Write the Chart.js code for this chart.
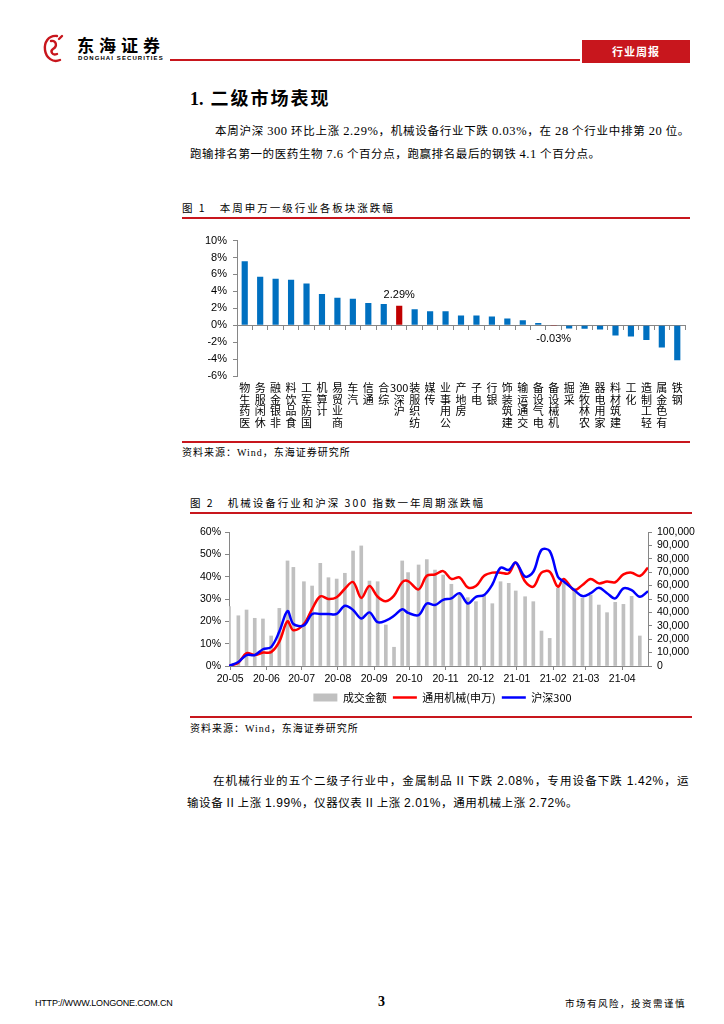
<!DOCTYPE html>
<html lang="zh-CN">
<head>
<meta charset="utf-8">
<title>二级市场表现</title>
<script src="https://cdn.jsdelivr.net/npm/chart.js@4.4.1/dist/chart.umd.min.js"></script>
<style>
  html, body { margin: 0; padding: 0; background: #fff; }
  #page { position: relative; width: 724px; height: 1024px; overflow: hidden; color: #000;
          font-family: "Liberation Serif", "Noto Sans CJK SC", serif; }
  .abs { position: absolute; white-space: nowrap; }
  .cjk { font-family: "Noto Sans CJK SC", sans-serif; }
  .rule { position: absolute; height: 2px; background: #c8161d; }
  .caption { font-family: "Noto Sans CJK SC", sans-serif; font-size: 10.5px; letter-spacing: 2px; line-height: 14px; }
  .source { font-family: "Liberation Serif", "Noto Sans CJK SC", serif; font-size: 10px; letter-spacing: 1px; line-height: 14px; }
  .para { font-family: "Noto Sans CJK SC", sans-serif; font-size: 11.5px; line-height: 16px; letter-spacing: 0.6px; }
  .para .n { font-family: "Liberation Serif", serif; font-size: 12.5px; }
  .para2 .n { font-family: "Liberation Sans", sans-serif; font-size: 12px; }
  .just { text-align: justify; text-align-last: justify; }
</style>
</head>
<body>
<div id="page">
  <!-- header -->
  <svg class="abs" style="left:42px;top:33px" width="24" height="32" viewBox="0 0 24 32">
    <path d="M15 3 C6 2 2 10 3 17 C4 25 11 30 18 27 M9 8 C14 7 16 13 11 16 C8 18 10 23 15 21 M17 6 L20 3" stroke="#c8161d" stroke-width="2.4" fill="none" stroke-linecap="round"/>
  </svg>
  <div class="abs cjk" style="left:77px;top:35px;font-size:17px;font-weight:bold;letter-spacing:5px;line-height:20px">东海证券</div>
  <div class="abs" style="left:78px;top:55px;font-family:'Liberation Sans',sans-serif;font-size:6px;font-weight:bold;letter-spacing:1.1px;line-height:7px">DONGHAI SECURITIES</div>
  <div class="rule" style="left:170px;top:59px;width:410px;height:1.5px"></div>
  <div class="abs cjk" style="left:582px;top:40px;width:108px;height:23px;background:#c8161d;color:#fff;font-size:11px;font-weight:bold;line-height:23px;text-align:center;letter-spacing:1px">行业周报</div>

  <div class="abs" style="left:190px;top:85px;font-size:18px;font-weight:bold;line-height:24px"><span style="font-family:'Liberation Serif',serif;margin-right:7px">1.</span><span class="cjk" style="letter-spacing:2px">二级市场表现</span></div>

  <div class="abs para just" style="left:215px;top:122px;width:475px">本周沪深 <span class="n">300</span> 环比上涨 <span class="n">2.29%</span>，机械设备行业下跌 <span class="n">0.03%</span>，在 <span class="n">28</span> 个行业中排第 <span class="n">20</span> 位。</div>
  <div class="abs para" style="left:190px;top:145px">跑输排名第一的医药生物 <span class="n">7.6</span> 个百分点，跑赢排名最后的钢铁 <span class="n">4.1</span> 个百分点。</div>

  <!-- figure 1 -->
  <div class="abs caption" style="left:182px;top:201px">图 1&nbsp;&nbsp;&nbsp;本周申万一级行业各板块涨跌幅</div>
  <div class="rule" style="left:182px;top:217px;width:508px"></div>
  <div class="abs" style="left:182px;top:228px;width:508px;height:212px"><canvas id="chart1" width="508" height="212"></canvas></div>
  <div class="rule" style="left:182px;top:441px;width:508px"></div>
  <div class="abs source" style="left:182px;top:446px">资料来源：Wind，东海证券研究所</div>

  <!-- figure 2 -->
  <div class="abs caption" style="left:190px;top:496px">图 2&nbsp;&nbsp;&nbsp;机械设备行业和沪深 300 指数一年周期涨跌幅</div>
  <div class="rule" style="left:190px;top:512px;width:502px"></div>
  <div class="abs" style="left:185px;top:518px;width:515px;height:195px"><canvas id="chart2" width="515" height="195"></canvas></div>
  <div class="rule" style="left:190px;top:716px;width:502px"></div>
  <div class="abs source" style="left:190px;top:722px">资料来源：Wind，东海证券研究所</div>

  <div class="abs para para2 just" style="left:213px;top:772px;width:476px">在机械行业的五个二级子行业中，金属制品 <span class="n">II</span> 下跌 <span class="n">2.08%</span>，专用设备下跌 <span class="n">1.42%</span>，运</div>
  <div class="abs para para2" style="left:187px;top:794px">输设备 <span class="n">II</span> 上涨 <span class="n">1.99%</span>，仪器仪表 <span class="n">II</span> 上涨 <span class="n">2.01%</span>，通用机械上涨 <span class="n">2.72%</span>。</div>

  <!-- footer -->
  <div class="abs" style="left:35px;top:997px;font-family:'Liberation Sans',sans-serif;font-size:9px;letter-spacing:-0.2px;line-height:12px">HTTP://WWW.LONGONE.COM.CN</div>
  <div class="abs" style="left:378px;top:994px;font-size:14px;font-weight:bold;line-height:16px">3</div>
  <div class="abs cjk" style="left:565px;top:997px;font-size:9.5px;letter-spacing:1.5px;line-height:12px">市场有风险，投资需谨慎</div>
</div>

<script>
// ---- 图1 数据 ----
const industries = ['医药生物', '休闲服务', '非银金融', '食品饮料', '国防军工', '计算机', '商业贸易', '汽车', '通信', '综合',
  '沪深300', '纺织服装', '传媒', '公用事业', '房地产', '电子', '银行', '建筑装饰', '交通运输', '电气设备',
  '机械设备', '采掘', '农林牧渔', '家用电器', '建筑材料', '化工', '轻工制造', '有色金属', '钢铁'];
const weeklyChange = [7.57, 5.73, 5.49, 5.37, 4.94, 3.69, 3.25, 3.14, 2.63, 2.51,
  2.29, 1.88, 1.65, 1.65, 1.14, 1.14, 1.02, 0.78, 0.59, 0.27,
  -0.03, -0.39, -0.41, -0.51, -1.22, -1.33, -1.76, -2.63, -4.13];
const highlighted = ['沪深300', '机械设备'];

// ---- 图2 数据 ----
const weekDates = ['2020-04-30', '2020-05-08', '2020-05-15', '2020-05-22', '2020-05-29', '2020-06-05', '2020-06-12', '2020-06-19',
  '2020-06-24', '2020-07-03', '2020-07-10', '2020-07-17', '2020-07-24', '2020-07-31', '2020-08-07', '2020-08-14',
  '2020-08-21', '2020-08-28', '2020-09-04', '2020-09-11', '2020-09-18', '2020-09-25', '2020-09-30', '2020-10-09',
  '2020-10-16', '2020-10-23', '2020-10-30', '2020-11-06', '2020-11-13', '2020-11-20', '2020-11-27', '2020-12-04',
  '2020-12-11', '2020-12-18', '2020-12-25', '2020-12-31', '2021-01-08', '2021-01-15', '2021-01-22', '2021-01-29',
  '2021-02-05', '2021-02-10', '2021-02-19', '2021-02-26', '2021-03-05', '2021-03-12', '2021-03-19', '2021-03-26',
  '2021-04-02', '2021-04-09', '2021-04-16', '2021-04-23'];
const turnover = [44300, 37500, 41800, 35600, 35100, 22400, 43000, 78400, 73600, 62900, 59700, 76600, 65900,
  64900, 69200, 85800, 89600, 63400, 62900, 30600, 14000, 78400, 69700, 75400, 79400, 71600,
  67900, 61000, 54200, 51000, 48000, 53000, 46500, 62900, 61700, 56000, 51700, 48000, 26100,
  20600, 58000, 61700, 58000, 50500, 53000, 45500, 39800, 47500, 46000, 52000, 22400, null];
const machinery = [0, 1.5, 5.8, 4.9, 6.0, 6.2, 10.9, 20.0, 16.0, 18.8, 25.5, 31.2, 30.0, 30.8, 34.6, 37.6, 30.5,
  35.8, 31.0, 29.0, 31.5, 37.5, 38.0, 34.3, 40.4, 41.0, 42.5, 39.0, 39.7, 35.2, 35.8, 40.4, 41.8,
  41.8, 41.5, 46.3, 37.8, 35.5, 41.8, 42.2, 35.5, 39.0, 34.0, 36.3, 39.0, 37.0, 37.8, 37.5, 41.0,
  41.8, 40.3, 44.0];
const hs300 = [0, 1.8, 4.9, 4.9, 7.5, 8.5, 15.4, 24.6, 18.8, 18.2, 23.3, 23.3, 23.3, 23.3, 27.0, 25.1, 21.3,
  24.0, 19.6, 20.3, 22.5, 25.4, 23.8, 22.8, 28.0, 27.3, 29.6, 30.3, 32.6, 28.0, 31.0, 31.8, 36.5,
  44.0, 43.0, 46.3, 40.0, 42.2, 52.0, 51.5, 40.0, 37.8, 34.0, 31.3, 32.6, 35.0, 32.6, 30.3, 34.8,
  34.0, 31.0, 33.5];
const monthLabels = ['20-05', '20-06', '20-07', '20-08', '20-09', '20-10', '20-11', '20-12', '21-01', '21-02', '21-03', '21-04'];

const axisGray = '#868686';

// 竖排标签：字从下往上读，数字连在一起
function stackLabel(name) {
  const parts = name.match(/\d+|./g);
  return parts.reverse();
}

const barLabels = {
  id: 'barLabels',
  afterDatasetsDraw(chart) {
    const ctx = chart.ctx;
    const meta = chart.getDatasetMeta(0);
    ctx.save();
    ctx.font = '11px "Liberation Sans"';
    ctx.fillStyle = '#000';
    ctx.textAlign = 'center';
    highlighted.forEach(name => {
      const i = industries.indexOf(name);
      const v = weeklyChange[i];
      const bar = meta.data[i];
      const txt = v.toFixed(2) + '%';
      if (v >= 0) {
        ctx.textBaseline = 'bottom';
        ctx.fillText(txt, bar.x, bar.y - 5);
      } else {
        ctx.textBaseline = 'top';
        ctx.fillText(txt, bar.x, bar.base + 8);
      }
    });
    ctx.restore();
  }
};

new Chart(document.getElementById('chart1').getContext('2d'), {
  type: 'bar',
  data: {
    labels: industries,
    datasets: [{
      data: weeklyChange,
      backgroundColor: industries.map(n => highlighted.includes(n) ? '#c00000' : '#0070c0'),
      barPercentage: 0.4,
      categoryPercentage: 1.0
    }]
  },
  options: {
    responsive: false,
    animation: false,
    events: [],
    layout: { padding: { top: 12, right: 5, left: 0, bottom: 0 } },
    plugins: { legend: { display: false }, tooltip: { enabled: false } },
    scales: {
      x: {
        grid: { display: false, drawTicks: false },
        border: { display: false },
        ticks: {
          autoSkip: false, maxRotation: 0, minRotation: 0, padding: 6, color: '#000',
          font: { family: '"Noto Sans CJK SC"', size: 11, lineHeight: 1.05 },
          callback: (v, i) => stackLabel(industries[i])
        },
        afterFit: s => { s.height = 64; }
      },
      x0: {
        type: 'category',
        position: { y: 0 },
        grid: { offset: true, drawOnChartArea: false, tickLength: 4, color: axisGray },
        border: { color: axisGray },
        ticks: { display: false }
      },
      y: {
        min: -6, max: 10,
        ticks: { stepSize: 2, padding: 6, color: '#000', font: { family: '"Liberation Sans"', size: 11 },
          callback: v => v + '%' },
        grid: { drawOnChartArea: false, tickLength: 4, color: axisGray },
        border: { color: axisGray },
        afterFit: s => { s.width = 55; }
      }
    }
  },
  plugins: [barLabels]
});

// ---- 图2 ----
const dayMs = 86400000;
const startDay = Date.parse(weekDates[0]);
const dayOf = d => (Date.parse(d) - startDay) / dayMs;
const xMax = dayOf(weekDates[weekDates.length - 1]);
const pts = vals => weekDates.map((d, i) => ({ x: dayOf(d), y: vals[i] }));
const tickFont = { family: '"Liberation Sans"', size: 10.5 };

new Chart(document.getElementById('chart2').getContext('2d'), {
  type: 'bar',
  data: {
    datasets: [
      {
        label: '成交金额', data: pts(turnover), yAxisID: 'y1', order: 3,
        backgroundColor: '#c0c0c0', borderWidth: 0, barThickness: 3, pointStyle: 'rect'
      },
      {
        type: 'line', label: '通用机械(申万)', data: pts(machinery), yAxisID: 'y', order: 2,
        borderColor: '#ff0000', backgroundColor: '#ff0000', borderWidth: 2.5, pointRadius: 0,
        tension: 0.35, pointStyle: 'line'
      },
      {
        type: 'line', label: '沪深300', data: pts(hs300), yAxisID: 'y', order: 1,
        borderColor: '#0000ff', backgroundColor: '#0000ff', borderWidth: 2.5, pointRadius: 0,
        tension: 0.35, pointStyle: 'line'
      }
    ]
  },
  options: {
    responsive: false,
    animation: false,
    events: [],
    layout: { padding: { top: 14, right: 0, left: 0, bottom: 0 } },
    plugins: {
      tooltip: { enabled: false },
      legend: {
        position: 'bottom',
        labels: {
          usePointStyle: true, pointStyleWidth: 24, boxHeight: 8, padding: 6, color: '#000',
          font: { family: '"Noto Sans CJK SC"', size: 11 },
          sort: (a, b) => a.datasetIndex - b.datasetIndex
        }
      }
    },
    scales: {
      x: {
        type: 'linear', min: 0, max: xMax, offset: false,
        afterBuildTicks: s => { s.ticks = monthLabels.map(m => ({ value: dayOf('20' + m + '-01') })); },
        ticks: { autoSkip: false, maxRotation: 0, padding: 3, color: '#000', font: tickFont,
          callback: (v, i) => monthLabels[i] },
        grid: { offset: false, drawOnChartArea: false, tickLength: 4, color: axisGray },
        border: { color: axisGray },
        afterFit: s => { s.height = 20; }
      },
      y: {
        position: 'left', min: 0, max: 60,
        ticks: { stepSize: 10, autoSkip: false, padding: 4, color: '#000', font: tickFont, callback: v => v + '%' },
        grid: { drawOnChartArea: false, tickLength: 4, color: axisGray },
        border: { color: axisGray },
        afterFit: s => { s.width = 44; }
      },
      y1: {
        position: 'right', min: 0, max: 100000,
        ticks: { stepSize: 10000, autoSkip: false, padding: 5, color: '#000', font: tickFont,
          callback: v => v.toLocaleString('en-US') },
        grid: { drawOnChartArea: false, tickLength: 4, color: axisGray },
        border: { color: axisGray },
        afterFit: s => { s.width = 52; }
      }
    }
  }
});
</script>
</body>
</html>
